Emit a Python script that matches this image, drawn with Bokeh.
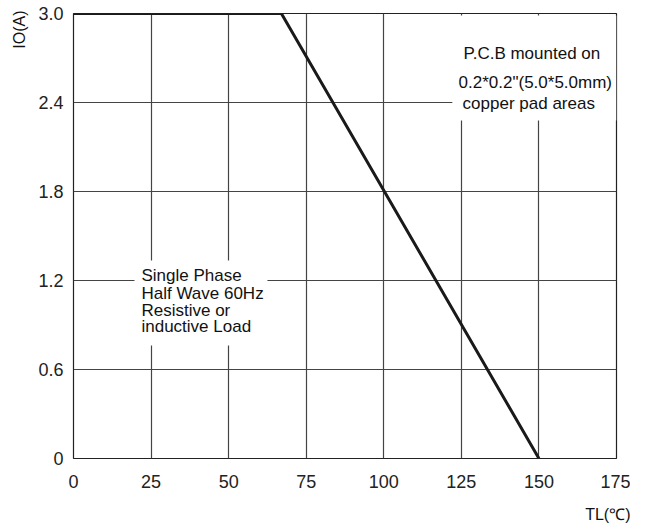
from bokeh.plotting import figure
from bokeh.models import FixedTicker, BoxAnnotation, Label, Range1d, Title, NumeralTickFormatter
from bokeh.embed import file_html
from bokeh.resources import INLINE

# Data (derating curve)
tl_values = [0, 67, 150]
io_values = [3.0, 3.0, 0.0]

x_ticks = [0, 25, 50, 75, 100, 125, 150, 175]
y_ticks = [0, 0.6, 1.2, 1.8, 2.4, 3.0]

note_right = ["P.C.B mounted on", "0.2*0.2\"(5.0*5.0mm)", "copper pad areas"]
note_left = ["Single Phase", "Half Wave 60Hz", "Resistive or", "inductive Load"]

FONT = "Liberation Sans"

p = figure(frame_width=543, frame_height=445, output_backend="svg", toolbar_location=None,
           x_range=Range1d(0, 175), y_range=Range1d(0, 3.0),
           min_border_left=73, min_border_right=14, min_border_top=13, min_border_bottom=50)

p.background_fill_color = "white"
p.border_fill_color = "white"
p.outline_line_color = "#222222"
p.outline_line_width = 1.2

p.xaxis.ticker = FixedTicker(ticks=x_ticks)
p.yaxis.ticker = FixedTicker(ticks=y_ticks)
p.yaxis.formatter = NumeralTickFormatter(format="0.0")
p.yaxis.major_label_overrides = {0: "0"}

for ax in (p.xaxis, p.yaxis):
    ax.axis_line_color = None
    ax.major_tick_line_color = None
    ax.minor_tick_line_color = None
    ax.major_tick_out = 0
    ax.major_tick_in = 0
    ax.major_label_text_font = FONT
    ax.major_label_text_font_size = "18px"
    ax.major_label_text_color = "#222222"
p.xaxis.major_label_standoff = 16
p.yaxis.major_label_standoff = 10

p.xgrid.ticker = FixedTicker(ticks=x_ticks)
p.ygrid.ticker = FixedTicker(ticks=y_ticks)
for g in (p.xgrid, p.ygrid):
    g.grid_line_color = "#444444"
    g.grid_line_width = 1.2

p.line(tl_values, io_values, line_color="#1a1a1a", line_width=3)

# white boxes behind the notes
p.add_layout(BoxAnnotation(left=122.1, right=175, top=2.987, bottom=2.279,
                           fill_color="white", fill_alpha=1, line_color=None))
p.add_layout(BoxAnnotation(left=19.66, right=62.5, top=1.335, bottom=0.762,
                           fill_color="white", fill_alpha=1, line_color=None))

right_pos = [(125.7, 2.730), (124.1, 2.535), (125.4, 2.393)]
for txt, (xx, yy) in zip(note_right, right_pos):
    p.add_layout(Label(x=xx, y=yy, text=txt, text_font=FONT, text_font_size="17px",
                       text_color="#111111", text_baseline="middle", text_align="left"))

left_pos = [(21.9, 1.234), (21.9, 1.112), (21.9, 0.998), (21.9, 0.890)]
for txt, (xx, yy) in zip(note_left, left_pos):
    p.add_layout(Label(x=xx, y=yy, text=txt, text_font=FONT, text_font_size="17px",
                       text_color="#111111", text_baseline="middle", text_align="left"))

# axis titles
p.add_layout(Title(text="IO(A)", align="right", offset=-3, standoff=16,
                   text_font=FONT, text_font_size="16px",
                   text_font_style="normal", text_color="#111111"), "left")
p.add_layout(Title(text="TL(℃)", align="right", offset=-14, standoff=26,
                   text_font=FONT, text_font_size="16px",
                   text_font_style="normal", text_color="#111111"), "below")

open("out.html", "w").write(file_html(p, INLINE))
